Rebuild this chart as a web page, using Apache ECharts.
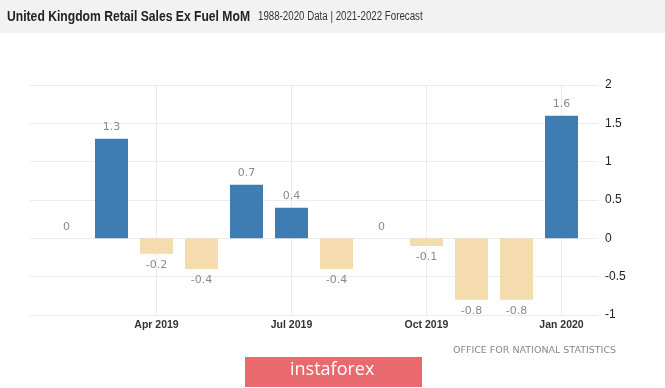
<!DOCTYPE html>
<html>
<head>
<meta charset="utf-8">
<script src="https://cdn.jsdelivr.net/npm/echarts@6/dist/echarts.min.js"></script>
<style>html,body{margin:0;padding:0;background:#fff}#c{width:665px;height:388px}</style>
</head>
<body>
<div id="c"></div>
<script>
const categories = ['Feb 2019','Mar 2019','Apr 2019','May 2019','Jun 2019','Jul 2019','Aug 2019','Sep 2019','Oct 2019','Nov 2019','Dec 2019','Jan 2020'];
const values = [0, 1.3, -0.2, -0.4, 0.7, 0.4, -0.4, 0, -0.1, -0.8, -0.8, 1.6];
const yTicks = [-1, -0.5, 0, 0.5, 1, 1.5, 2];
const titleText = 'United Kingdom Retail Sales Ex Fuel MoM';
const subtitleText = '1988-2020 Data | 2021-2022 Forecast';
const sourceText = 'OFFICE FOR NATIONAL STATISTICS';

const chart = echarts.init(document.getElementById('c'));
const showIdx = i => i % 3 === 2;
chart.setOption({
  animation: false,
  grid: [
    {left: 44, right: 81, top: 85, bottom: 73},
    {left: 30, right: 67, top: 85, bottom: 73}
  ],
  xAxis: [
    {
      type: 'category', data: categories, gridIndex: 0,
      axisLine: {show: false}, axisTick: {show: false},
      axisLabel: {interval: (i) => showIdx(i), color: '#333', fontFamily: 'Liberation Sans', fontWeight: 'bold', fontSize: 10.5, margin: 5},
      splitLine: {show: true, interval: (i) => showIdx(i), alignWithLabel: true, lineStyle: {color: '#ebebeb', width: 1}}
    },
    {type: 'value', gridIndex: 1, show: false, min: 0, max: 1}
  ],
  yAxis: [
    {type: 'value', gridIndex: 0, min: yTicks[0], max: yTicks[yTicks.length-1], interval: 0.5, show: false},
    {
      type: 'value', gridIndex: 1, position: 'right', min: yTicks[0], max: yTicks[yTicks.length-1], interval: 0.5,
      axisLine: {show: false}, axisTick: {show: false},
      axisLabel: {color: '#222', fontFamily: 'Liberation Sans', fontSize: 12, margin: 7, formatter: v => String(v)},
      splitLine: {show: true, lineStyle: {color: '#ececec', width: 1}}
    }
  ],
  series: [{
    type: 'bar', xAxisIndex: 0, yAxisIndex: 0, barWidth: 33,
    data: values.map(v => v < 0 ? {value: v, label: {position: 'bottom'}} : v),
    itemStyle: {color: p => p.value >= 0 ? '#3e7cb2' : '#f4dcae'},
    label: {
      show: true, fontFamily: 'DejaVu Sans', fontSize: 11, color: '#8a8a8a', distance: 6,
      position: 'top',
      formatter: p => String(p.value)
    }
  }],
  graphic: [
    {type: 'rect', x: 0, y: 0, shape: {width: 665, height: 33}, style: {fill: '#f2f2f2'}, z: -1},
    {type: 'text', x: 7, y: 9, scaleX: 0.81, style: {text: titleText, font: 'bold 15px "Liberation Sans"', fill: '#222'}},
    {type: 'text', x: 258, y: 11, scaleX: 0.81, style: {text: subtitleText, font: '12px "Liberation Sans"', fill: '#333'}},
    {type: 'text', x: 453, y: 346, style: {text: sourceText, font: '9.5px "DejaVu Sans"', fill: '#888'}},
    {type: 'rect', x: 245, y: 357, shape: {width: 177, height: 30}, style: {fill: '#e86a6e'}},
    {type: 'text', x: 290, y: 361, style: {text: 'instaforex', font: '18px "Open Sans"', fill: '#fff'}}
  ]
});
</script>
</body>
</html>
